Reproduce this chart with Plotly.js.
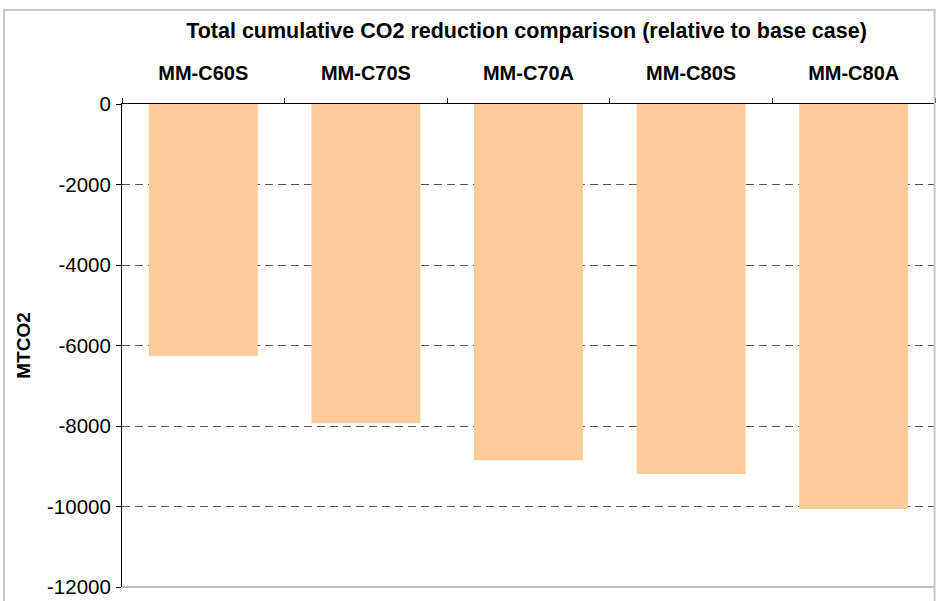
<!DOCTYPE html>
<html>
<head>
<meta charset="utf-8">
<script src="https://cdn.plot.ly/plotly-3.0.1.min.js"></script>
<style>
  html, body { margin: 0; padding: 0; background: #ffffff; }
  #chart { width: 936px; height: 601px; }
</style>
</head>
<body>
<div id="chart"></div>
<script>
// Scenario names and their cumulative CO2 reduction (MTCO2) relative to the base case
const scenarios = ["MM-C60S", "MM-C70S", "MM-C70A", "MM-C80S", "MM-C80A"];
const reductions = [-6260, -7930, -8850, -9190, -10060];

// Value axis ticks
const yTickValues = [0, -2000, -4000, -6000, -8000, -10000, -12000];
const yTickLabels = ["0", "-2000", "-4000", "-6000", "-8000", "-10000", "-12000"];

const font = "Arial, 'Liberation Sans', sans-serif";

const trace = {
  type: "bar",
  x: scenarios,
  y: reductions,
  marker: { color: "#FFCC99", line: { width: 0 } },
  hoverinfo: "x+y"
};

const layout = {
  width: 936,
  height: 601,
  margin: { l: 122, r: 1, t: 104, b: 14 },
  paper_bgcolor: "#ffffff",
  plot_bgcolor: "#ffffff",
  showlegend: false,
  bargap: 0.33,
  font: { family: font, color: "#000000" },
  title: {
    text: "<b>Total cumulative CO2 reduction comparison (relative to base case)</b>",
    font: { family: font, size: 21.5, color: "#000000" },
    x: 0.5625, xanchor: "center",
    y: 0.95, yanchor: "middle"
  },
  xaxis: {
    side: "top",
    type: "category",
    showline: true, linecolor: "#000000", linewidth: 1,
    ticks: "outside", tickson: "boundaries", ticklen: 5, tickcolor: "#000000",
    ticklabelstandoff: 15,
    tickfont: { family: font, size: 20, color: "#000000", weight: "bold" },
    showgrid: false, zeroline: false, fixedrange: true
  },
  yaxis: {
    range: [-12000, 0],
    tickmode: "array",
    tickvals: yTickValues,
    ticktext: yTickLabels,
    showline: true, linecolor: "#000000", linewidth: 1,
    ticks: "outside", ticklen: 5, tickcolor: "#000000",
    ticklabelstandoff: 1,
    tickfont: { family: font, size: 20.5, color: "#000000" },
    showgrid: true, gridcolor: "#555555", gridwidth: 1, griddash: "8px,5px",
    zeroline: false, fixedrange: true,
    title: {
      text: "<b>MTCO2</b>",
      font: { family: font, size: 19, color: "#000000" },
      standoff: 11
    }
  },
  shapes: [
    // plot-area floor line
    { type: "line", xref: "paper", yref: "paper", x0: 0, x1: 1, y0: 0, y1: 0,
      line: { color: "#bdbdbd", width: 2 }, layer: "above" },
    // chart frame
    { type: "rect", xref: "paper", yref: "paper",
      x0: -0.1451, x1: 0.9995, y0: -0.1, y1: 1.1946,
      line: { color: "#c8c8c8", width: 2 }, layer: "above" }
  ]
};

Plotly.newPlot("chart", [trace], layout, { displayModeBar: false, staticPlot: true });
</script>
</body>
</html>
